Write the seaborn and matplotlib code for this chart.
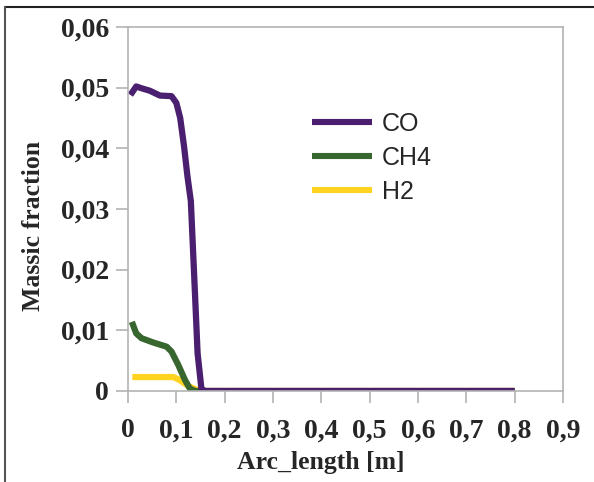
import matplotlib
matplotlib.use("Agg")
import matplotlib.pyplot as plt
import seaborn as sns
import pandas as pd
from matplotlib.lines import Line2D
from matplotlib.ticker import MultipleLocator, FuncFormatter

# values
co_x = [0.005, 0.017, 0.028, 0.045, 0.066, 0.090, 0.100, 0.108, 0.116, 0.123, 0.130, 0.137, 0.144, 0.152, 0.16, 0.8]
co_y = [0.0488, 0.0502, 0.0499, 0.0495, 0.0487, 0.0486, 0.0475, 0.045, 0.0403, 0.0354, 0.0313, 0.0189, 0.0062, 0.0003, 0.0, 0.0]

ch4_x = [0.008, 0.017, 0.028, 0.052, 0.080, 0.090, 0.104, 0.118, 0.128, 0.139, 0.16, 0.8]
ch4_y = [0.0114, 0.0095, 0.0087, 0.0080, 0.0073, 0.0065, 0.0043, 0.0018, 0.0004, 0.0, 0.0, 0.0]

h2_x = [0.009, 0.094, 0.107, 0.125, 0.142, 0.16, 0.8]
h2_y = [0.0023, 0.0023, 0.0018, 0.0008, 0.0002, 0.0, 0.0]

species = ["CO", "CH4", "H2"]
colors = {"CO": "#4B1F6F", "CH4": "#38662F", "H2": "#FFD320"}

df = pd.concat([
    pd.DataFrame({"x": co_x, "y": co_y, "species": "CO"}),
    pd.DataFrame({"x": ch4_x, "y": ch4_y, "species": "CH4"}),
    pd.DataFrame({"x": h2_x, "y": h2_y, "species": "H2"}),
])

sns.set_style("white")
plt.rcParams["font.family"] = ["Liberation Serif", "DejaVu Serif"]

fig = plt.figure(figsize=(5.94, 4.82), dpi=100)
ax = fig.add_axes([128 / 594, 1 - 391 / 482, 435 / 594, 364 / 482])

# draw H2 first so CO ends up on top
for sp in ["H2", "CH4", "CO"]:
    sns.lineplot(data=df[df.species == sp], x="x", y="y", color=colors[sp],
                 linewidth=4.5, ax=ax, sort=False, estimator=None,
                 solid_joinstyle="round", solid_capstyle="butt")

ax.set_xlim(0, 0.9)
ax.set_ylim(0, 0.06)
ax.xaxis.set_major_locator(MultipleLocator(0.1))
ax.yaxis.set_major_locator(MultipleLocator(0.01))
comma = FuncFormatter(lambda v, p: f"{round(v, 4):g}".replace(".", ","))
ax.xaxis.set_major_formatter(comma)
ax.yaxis.set_major_formatter(comma)

for s in ax.spines.values():
    s.set_color("#b3b3b3")
    s.set_linewidth(1.2)
ax.tick_params(axis="both", which="major", direction="out", length=8.6, width=1.2,
               color="#b3b3b3", labelsize=20, pad=5)
ax.tick_params(axis="x", pad=11)
ax.tick_params(left=True, bottom=True)
for lab in ax.get_xticklabels() + ax.get_yticklabels():
    lab.set_fontweight("bold")

ax.set_xlabel("Arc_length [m]", fontsize=18.5, fontweight="bold")
ax.set_ylabel("Massic fraction", fontsize=18.5, fontweight="bold")
ax.xaxis.set_label_coords(0.444, -0.165)
ax.yaxis.set_label_coords(-0.19, 0.453)

handles = [Line2D([], [], color=colors[sp], linewidth=4.4, solid_capstyle="butt") for sp in species]
leg = ax.legend(handles, species, loc="upper left", bbox_to_anchor=((312 - 128) / 435, (391 - 112) / 364),
                frameon=False, handlelength=2.4, handletextpad=0.4,
                labelspacing=0.4, borderaxespad=0, borderpad=0,
                prop={"family": ["Liberation Sans", "DejaVu Sans"], "size": 18})

# outer frame, top and left only as in the reference
fig.add_artist(Line2D([5 / 594, 1], [1 - 7 / 482, 1 - 7 / 482], transform=fig.transFigure,
                      color="#222222", linewidth=1.5))
fig.add_artist(Line2D([5 / 594, 5 / 594], [0, 1 - 7 / 482], transform=fig.transFigure,
                      color="#555555", linewidth=1.5))

fig.savefig("out.png", dpi=100)
